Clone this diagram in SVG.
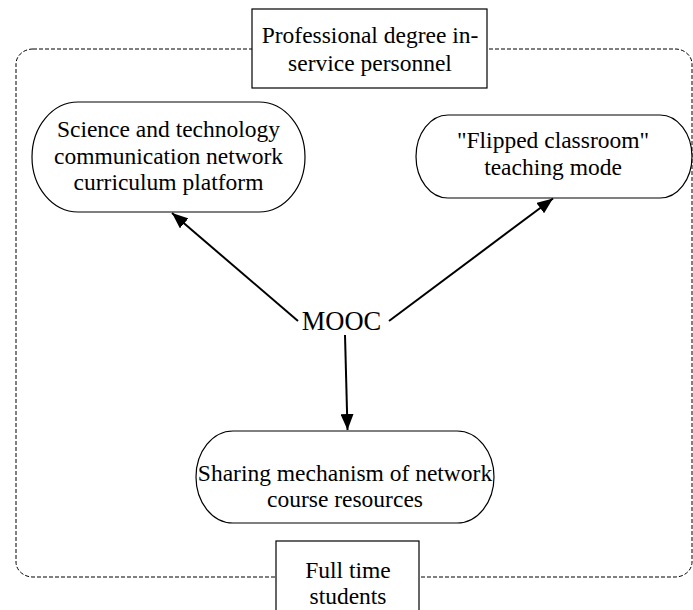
<svg xmlns="http://www.w3.org/2000/svg" width="693" height="610" viewBox="0 0 693 610">
<style>
text{font-family:"Liberation Serif","Times New Roman",serif;font-size:23.5px;fill:#000;text-anchor:middle}
.node{fill:#fff;stroke:#000;stroke-width:1.2}
.edge{stroke:#000;stroke-width:2;fill:none;marker-end:url(#ah)}
.border{fill:none;stroke:#000;stroke-width:1;stroke-dasharray:4,2}
</style>
<defs>
<marker id="ah" markerUnits="userSpaceOnUse" markerWidth="17" markerHeight="13" refX="16" refY="6.5" orient="auto">
<path d="M0,0 L16,6.5 L0,13 z" fill="#000"/>
</marker>
</defs>
<rect id="boundary" class="border" x="16" y="49" width="676" height="528" rx="17" ry="15"/>
<g id="connectors">
<line class="edge" x1="298" y1="321" x2="172" y2="213"/>
<line class="edge" x1="389" y1="321" x2="553" y2="198.5"/>
<line class="edge" x1="345" y1="335" x2="347.5" y2="430"/>
</g>
<g id="n-professional">
<rect class="node" x="252" y="9" width="235" height="79"/>
<text x="370" y="43">Professional degree in-</text>
<text x="370" y="71">service personnel</text>
</g>
<g id="n-science">
<rect class="node" x="32" y="102" width="273" height="110" rx="46" ry="55"/>
<text x="168.5" y="137">Science and technology</text>
<text x="168.5" y="163.5">communication network</text>
<text x="168.5" y="190">curriculum platform</text>
</g>
<g id="n-flipped">
<rect class="node" x="416" y="115" width="276" height="83" rx="32" ry="41.5"/>
<text x="553" y="148">"Flipped classroom"</text>
<text x="553" y="175">teaching mode</text>
</g>
<g id="n-mooc">
<text x="341.5" y="330" style="font-size:26.5px">MOOC</text>
</g>
<g id="n-sharing">
<rect class="node" x="196" y="431" width="298" height="92" rx="37" ry="46"/>
<text x="345" y="481">Sharing mechanism of network</text>
<text x="345" y="507">course resources</text>
</g>
<g id="n-fulltime">
<rect class="node" x="276" y="541" width="143" height="80"/>
<text x="348" y="578">Full time</text>
<text x="348" y="604">students</text>
</g>
</svg>
